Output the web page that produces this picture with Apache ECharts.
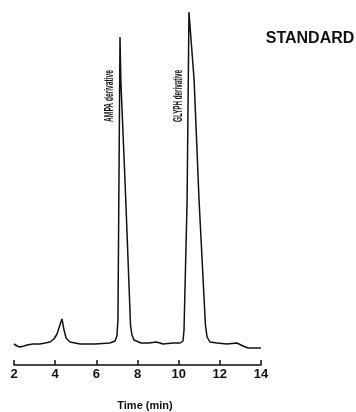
<!DOCTYPE html>
<html>
<head>
<meta charset="utf-8">
<script src="https://cdn.jsdelivr.net/npm/echarts@6/dist/echarts.min.js"></script>
<style>html,body{margin:0;padding:0;background:#fff}#c{width:356px;height:412px}</style>
</head>
<body>
<div id="c"></div>
<script>
// time (min)
var times = [2.00,2.15,2.29,2.49,2.63,2.92,3.26,3.51,3.75,3.94,4.09,4.23,4.33,4.43,4.53,4.72,5.21,5.94,6.66,6.91,7.00,7.05,7.15,7.19,7.43,7.66,7.73,7.83,8.17,8.56,8.90,9.09,9.24,9.72,10.07,10.21,10.26,10.41,10.50,10.75,10.99,11.30,11.38,11.52,11.86,12.35,12.83,13.13,13.37,13.61,14.00];
// detector response (arbitrary units)
var signal = [21,19,18,19,20,21,21,22,23,26,31,40,46,35,27,23,21,21,22,24,29,45,328,285,165,40,30,25,22,22,23,22,21,22,22,24,35,165,353,285,165,40,28,23,22,21,22,19,17,17,17];
var xTicks = [2,4,6,8,10,12,14];
var peakLabels = ['AMPA derivative','GLYPH derivative'];
var titleText = 'STANDARD';
var axisName = 'Time (min)';

var pts = times.map(function(t,i){return [t, signal[i]];});
var chart = echarts.init(document.getElementById('c'), null, {renderer:'canvas'});
var FONT = '"Liberation Sans", Arial, sans-serif';
chart.setOption({
  animation:false,
  backgroundColor:'#fff',
  grid:{left:14, right:95, top:5, bottom:47},
  xAxis:{
    type:'value', min:2, max:14, interval:2,
    axisLine:{show:true, lineStyle:{color:'#111', width:1.5}},
    axisTick:{show:true, inside:true, length:5, lineStyle:{color:'#111', width:1.5}},
    axisLabel:{color:'#111', fontFamily:FONT, fontWeight:'bold', fontSize:13, margin:3,
      formatter:function(v){return xTicks.indexOf(v)>=0?String(v):'';}},
    splitLine:{show:false}
  },
  yAxis:{type:'value', min:0, max:360, show:false, splitLine:{show:false}},
  series:[{
    type:'line', data:pts, showSymbol:false, smooth:false,
    lineStyle:{color:'#111', width:1.5}
  }],
  graphic:[
    {type:'text', x:310, y:39, style:{text:titleText, fill:'#111', font:'bold 16px '+FONT, textAlign:'center', textVerticalAlign:'middle'}},
    {type:'text', x:109, y:96, rotation:Math.PI/2, scaleX:0.51, style:{text:peakLabels[0], fill:'#111', font:'bold 13px '+FONT, textAlign:'center', textVerticalAlign:'middle'}},
    {type:'text', x:178, y:96, rotation:Math.PI/2, scaleX:0.48, style:{text:peakLabels[1], fill:'#111', font:'bold 13px '+FONT, textAlign:'center', textVerticalAlign:'middle'}},
    {type:'text', x:145, y:406, style:{text:axisName, fill:'#111', font:'bold 11px '+FONT, textAlign:'center', textVerticalAlign:'middle'}}
  ]
});
</script>
</body>
</html>
